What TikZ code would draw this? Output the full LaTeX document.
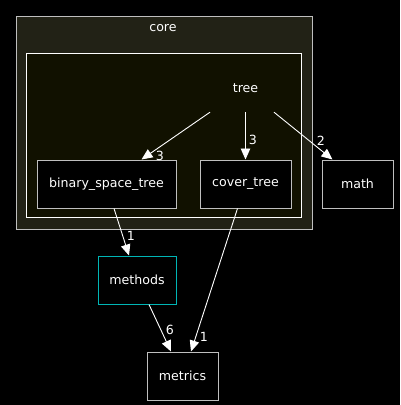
\documentclass[tikz,border=0pt]{standalone}
\usepackage{fontspec}
\setmainfont{DejaVu Sans}
\usetikzlibrary{arrows.meta,calc}
\definecolor{outerfill}{HTML}{222216}
\definecolor{innerfill}{HTML}{111100}
\definecolor{boxgray}{HTML}{BFBFBF}
\definecolor{cyanbox}{HTML}{00B5B5}
\tikzset{
  mod/.style={draw=boxgray, fill=black, text=white, line width=1pt, inner sep=0pt,
    minimum height=48pt, font=\fontsize{12.6}{14}\selectfont},
  plain/.style={text=white, inner sep=0pt, font=\fontsize{12.6}{14}\selectfont},
  dep/.style={draw=white, line width=0.9pt, -{Triangle[length=11pt,width=9.5pt,fill=white]}},
  lbl/.style={text=white, inner sep=0pt, font=\fontsize{12.6}{14}\selectfont},
}
\begin{document}
\begin{tikzpicture}[x=1pt,y=-1pt]
\fill[black] (0,0) rectangle (400,405);
\useasboundingbox (0,0) rectangle (400,405);
% clusters
\draw[draw=boxgray, fill=outerfill, line width=1pt] (16,16) rectangle (312,229);
\node[plain] (core) at (163,28.5) {core};
\draw[draw=white, fill=innerfill, line width=1pt] (26,53) rectangle (301,217);
\node[plain, minimum width=72pt, minimum height=48pt] (tree) at (245.5,88) {tree};
% nodes
\node[mod, minimum width=139pt] (bst) at (106.5,184) {binary\_space\_tree};
\node[mod, minimum width=91pt] (cover) at (245.5,184) {cover\_tree};
\node[mod, minimum width=71pt] (math) at (357.5,184) {math};
\node[mod, draw=cyanbox, minimum width=78pt] (methods) at (137,280) {methods};
\node[mod, minimum width=71pt] (metrics) at (182.5,376) {metrics};
% edges
\draw[dep] ($(tree.south)+(-35.5,0)$) -- ($(bst.north)+(35,0)$);
\draw[dep] (tree.south) -- (cover.north);
\draw[dep] ($(tree.south)+(28.5,0)$) -- ($(math.north)+(-25,0)$);
\draw[dep] ($(bst.south)+(7.5,0)$) -- ($(methods.north)+(-8,0)$);
\draw[dep] ($(methods.south)+(12,0)$) -- ($(metrics.north)+(-11.5,0)$);
\draw[dep] ($(cover.south)+(-8,0)$) -- ($(metrics.north)+(8.5,0)$);
% labels
\node[lbl] (l1) at (160,156) {3};
\node[lbl] (l2) at (253,140) {3};
\node[lbl] (l3) at (321,141) {2};
\node[lbl] (l4) at (131,236) {1};
\node[lbl] (l5) at (170,330) {6};
\node[lbl] (l6) at (204,337) {1};
\end{tikzpicture}
\end{document}
